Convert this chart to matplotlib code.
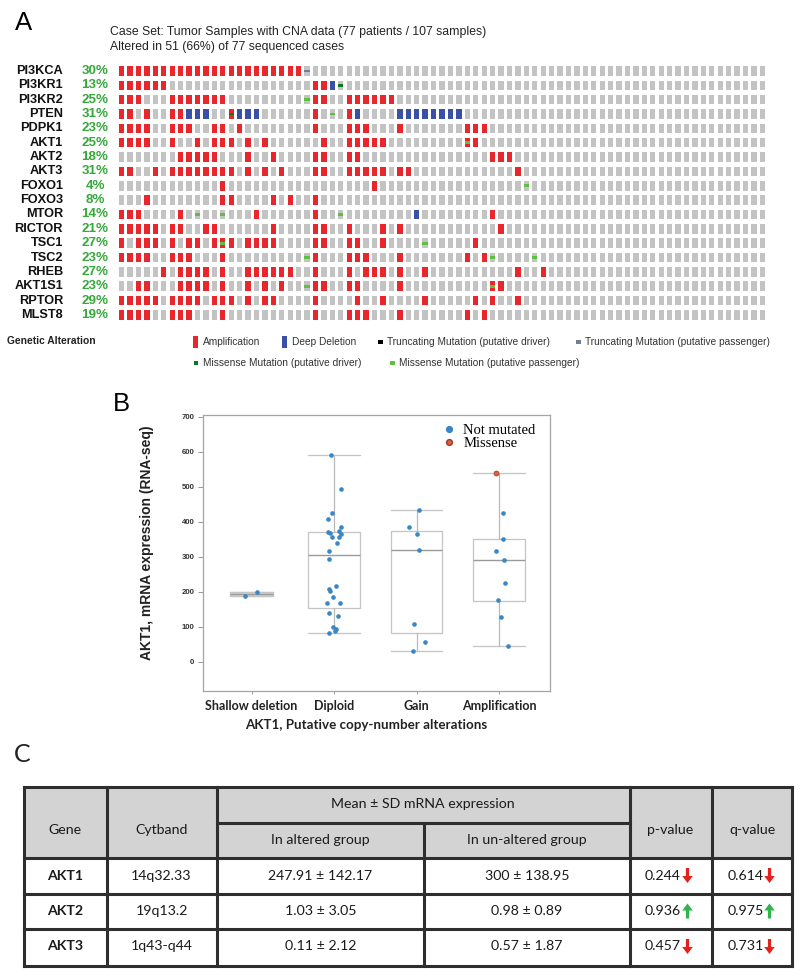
import matplotlib
matplotlib.use('Agg')
import matplotlib.pyplot as plt
from matplotlib.patches import Rectangle, FancyArrow
from matplotlib.lines import Line2D

# ---------------- Panel A data ----------------
genes = ['PI3KCA', 'PI3KR1', 'PI3KR2', 'PTEN', 'PDPK1', 'AKT1', 'AKT2', 'AKT3', 'FOXO1',
         'FOXO3', 'MTOR', 'RICTOR', 'TSC1', 'TSC2', 'RHEB', 'AKT1S1', 'RPTOR', 'MLST8']
pct_labels = ['30%', '13%', '25%', '31%', '23%', '25%', '18%', '31%', '4%',
              '8%', '14%', '21%', '27%', '23%', '27%', '23%', '29%', '19%']
n_cases = 77

amplification = {
    'PI3KCA': [0, 1, 2, 3, 4, 5, 6, 7, 8, 9, 10, 11, 12, 13, 14, 15, 16, 17, 18, 19, 20, 21],
    'PI3KR1': [0, 1, 2, 3, 4, 5, 23, 24],
    'PI3KR2': [0, 1, 2, 6, 7, 8, 9, 10, 11, 12, 23, 24, 27, 28, 29, 30, 31, 32],
    'PTEN': [0, 1, 3, 6, 7, 13, 23, 27],
    'PDPK1': [0, 1, 2, 3, 6, 7, 8, 11, 12, 14, 23, 27, 28, 29, 33, 41, 42, 43],
    'AKT1': [0, 1, 2, 3, 6, 9, 11, 12, 13, 15, 17, 24, 27, 28, 29, 30, 31, 41, 42],
    'AKT2': [7, 8, 9, 10, 11, 15, 18, 23, 24, 27, 28, 44, 45, 46],
    'AKT3': [0, 1, 4, 6, 7, 8, 9, 10, 11, 12, 13, 15, 17, 19, 23, 24, 27, 28, 29, 30, 31, 33, 34, 47],
    'FOXO1': [12, 30],
    'FOXO3': [3, 12, 13, 18, 20, 23],
    'MTOR': [0, 1, 2, 7, 16, 23, 44],
    'RICTOR': [0, 1, 2, 3, 4, 6, 7, 10, 11, 18, 23, 24, 27, 31, 33, 45],
    'TSC1': [0, 2, 3, 4, 6, 8, 9, 11, 12, 13, 15, 16, 17, 18, 23, 24, 27, 28, 31, 42],
    'TSC2': [0, 1, 2, 3, 6, 7, 8, 12, 23, 27, 28, 29, 33, 41, 43],
    'RHEB': [5, 7, 8, 9, 10, 12, 15, 16, 17, 18, 19, 20, 23, 27, 29, 30, 31, 33, 36, 47, 50],
    'AKT1S1': [2, 3, 7, 8, 9, 10, 12, 15, 17, 19, 23, 24, 27, 28, 33, 44, 45],
    'RPTOR': [0, 1, 2, 3, 4, 6, 7, 8, 9, 11, 12, 13, 15, 17, 18, 23, 28, 31, 36, 42, 44, 47],
    'MLST8': [0, 1, 2, 3, 6, 7, 8, 12, 23, 27, 28, 29, 33, 41, 43],
}
deep_deletion = {
    'PI3KR1': [25],
    'PTEN': [8, 9, 10, 14, 15, 16, 28, 33, 34, 35, 36, 37, 38, 39, 40],
    'MTOR': [35],
}
missense_driver = {'PI3KR1': [26], 'PTEN': [13]}
missense_passenger = {
    'PI3KR2': [22], 'PTEN': [25], 'AKT1': [41], 'FOXO1': [48], 'MTOR': [9, 12, 26],
    'TSC1': [12, 36], 'TSC2': [22, 44, 49], 'AKT1S1': [22, 44],
}
truncating_passenger = {'PI3KCA': [22]}

case_set_text = 'Case Set: Tumor Samples with CNA data (77 patients / 107 samples)'
altered_text = 'Altered in 51 (66%) of 77 sequenced cases'

# ---------------- Panel B data ----------------
cna_categories = ['Shallow deletion', 'Diploid', 'Gain', 'Amplification']
box_med = [193, 304, 320, 290.5]
box_q1 = [188, 154, 81, 174]
box_q3 = [198, 370, 372.5, 350]
box_lo = [188, 81, 30.6, 45]
box_hi = [198, 592, 432.5, 538]

shallow_x = [-0.079, 0.063]
shallow_y = [188.6, 198]
diploid_x = [0.964, 1.081, 0.972, 0.927, 1.081, 0.924, 0.955, 1.057, 0.972, 1.064, 1.085, 1.036,
             0.939, 0.936, 1.024, 0.936, 0.952, 0.988, 0.919, 1.069, 0.943, 1.048, 0.985, 1.023,
             1.010, 0.942]
diploid_y = [592, 492.6, 425.8, 408.7, 385.8, 371.5, 369, 373, 357, 356, 365, 339,
             315, 293, 216, 208, 201, 185, 167, 168, 139, 131, 98, 93.4, 88.6, 81]
gain_x = [2.03, 1.913, 2.01, 2.03, 1.97, 2.10, 1.958]
gain_y = [432.5, 384, 365, 320, 107, 55, 30.6]
amp_x = [3.048, 3.048, 2.964, 3.064, 3.07, 2.984, 3.024, 3.105]
amp_y = [426, 350, 316, 290, 224, 175.4, 128.6, 45]
missense_x = [2.96]
missense_y = [538]

# ---------------- Panel C data ----------------
table_genes = ['AKT1', 'AKT2', 'AKT3']
table_cytband = ['14q32.33', '19q13.2', '1q43-q44']
table_altered = ['247.91 \u00b1 142.17', '1.03 \u00b1 3.05', '0.11 \u00b1 2.12']
table_unaltered = ['300 \u00b1 138.95', '0.98 \u00b1 0.89', '0.57 \u00b1 1.87']
table_p = ['0.244', '0.936', '0.457']
table_q = ['0.614', '0.975', '0.731']
table_dir = ['down', 'up', 'down']

# ---------------- colours ----------------
C_GRAY = '#c3c3c3'
C_AMP = '#e8262b'
C_DEL = '#3a4fa8'
C_MIS_DRV = '#0a7a1a'
C_MIS_PAS = '#5cc040'
C_TRU_DRV = '#000000'
C_TRU_PAS = '#708090'
C_PCT = '#35a83a'
C_DOT = '#3a87c8'
C_MISSENSE = '#d9603b'

SANS = 'Liberation Sans'
CAL = 'Lato'

W, H = 800, 976
fig = plt.figure(figsize=(W / 100, H / 100), dpi=100)


def fa(l, t, r, b):
    return [l / W, 1 - b / H, (r - l) / W, (b - t) / H]


ov = fig.add_axes([0, 0, 1, 1])
ov.set_xlim(0, W)
ov.set_ylim(H, 0)
ov.axis('off')

# ---------------- Panel A ----------------
ov.text(15, 23, 'A', fontsize=18.5, family=SANS, ha='left', va='center')
ov.text(110, 32, case_set_text, fontsize=8.8, family=SANS, ha='left', va='center', color='#222222')
ov.text(110, 47, altered_text, fontsize=8.8, family=SANS, ha='left', va='center', color='#222222')

pitch_x = 8.43
pitch_y = 14.35
grid_left = 119 - 1.55
grid_top = 71 - pitch_y / 2
axo = fig.add_axes(fa(grid_left, grid_top, grid_left + n_cases * pitch_x,
                      grid_top + len(genes) * pitch_y))
axo.set_xlim(0, n_cases)
axo.set_ylim(len(genes), 0)
axo.axis('off')

cw = 5.3 / pitch_x
ch = 9.5 / pitch_y
mh = 2.8 / pitch_y
for r, g in enumerate(genes):
    cols = list(range(n_cases))
    colors = []
    amp = set(amplification.get(g, []))
    dele = set(deep_deletion.get(g, []))
    for c in cols:
        if c in amp:
            colors.append(C_AMP)
        elif c in dele:
            colors.append(C_DEL)
        else:
            colors.append(C_GRAY)
    axo.bar([c + 0.5 for c in cols], ch, bottom=r + 0.5 - ch / 2, width=cw,
            color=colors, linewidth=0)
    for dct, col in [(missense_driver, C_MIS_DRV), (missense_passenger, C_MIS_PAS),
                     (truncating_passenger, C_TRU_PAS)]:
        idx = dct.get(g, [])
        if idx:
            axo.bar([c + 0.5 for c in idx], mh, bottom=r + 0.5 - mh / 2, width=cw,
                    color=col, linewidth=0)
    axo.text((63 - grid_left) / pitch_x, r + 0.5, g, ha='right', va='center',
             fontsize=9.2, fontweight='bold', family=SANS, color='#111111')
    axo.text((95 - grid_left) / pitch_x, r + 0.5, pct_labels[r], ha='center', va='center',
             fontsize=9.6, fontweight='bold', family=SANS, color=C_PCT)

# legend of panel A
ov.text(7, 341, 'Genetic Alteration', fontsize=7.4, fontweight='bold', family=SANS,
        ha='left', va='center', color='#222222')
leg_fs = 7.3
ov.add_patch(Rectangle((193, 335.5), 5, 12.5, color=C_AMP, lw=0))
ov.text(203, 342, 'Amplification', fontsize=leg_fs, family=SANS, va='center', color='#333333')
ov.add_patch(Rectangle((282, 335.5), 5, 12.5, color=C_DEL, lw=0))
ov.text(292, 342, 'Deep Deletion', fontsize=leg_fs, family=SANS, va='center', color='#333333')
ov.add_patch(Rectangle((378, 339.5), 4.5, 4.5, color=C_TRU_DRV, lw=0))
ov.text(387, 342, 'Truncating Mutation (putative driver)', fontsize=leg_fs, family=SANS,
        va='center', color='#333333')
ov.add_patch(Rectangle((576, 339.5), 4.5, 4.5, color=C_TRU_PAS, lw=0))
ov.text(585, 342, 'Truncating Mutation (putative passenger)', fontsize=leg_fs, family=SANS,
        va='center', color='#333333')
ov.add_patch(Rectangle((193.5, 360.5), 4.5, 4.5, color=C_MIS_DRV, lw=0))
ov.text(203, 363, 'Missense Mutation (putative driver)', fontsize=leg_fs, family=SANS,
        va='center', color='#333333')
ov.add_patch(Rectangle((390, 360.5), 4.5, 4.5, color=C_MIS_PAS, lw=0))
ov.text(399, 363, 'Missense Mutation (putative passenger)', fontsize=leg_fs, family=SANS,
        va='center', color='#333333')

# ---------------- Panel B ----------------
ov.text(113, 404, 'B', fontsize=18.5, family=SANS, ha='left', va='center')
axb = fig.add_axes(fa(203, 415, 550, 691))
axb.set_xlim(-0.588, 3.618)
axb.set_ylim(-84, 705)
stats = []
for i in range(4):
    stats.append(dict(med=box_med[i], q1=box_q1[i], q3=box_q3[i],
                      whislo=box_lo[i], whishi=box_hi[i], fliers=[]))
widths = [0.52, 0.627, 0.627, 0.627]
bp = axb.bxp(stats, positions=[0, 1, 2, 3], widths=widths, capwidths=widths,
             showfliers=False, patch_artist=True,
             boxprops=dict(facecolor='white', edgecolor='#c4c4c4', linewidth=0.9),
             medianprops=dict(color='#9a9a9a', linewidth=1.0),
             whiskerprops=dict(color='#b8b8b8', linewidth=0.9),
             capprops=dict(color='#c4c4c4', linewidth=0.9))
bp['boxes'][0].set_facecolor('#d6d6d6')
for xs, ys in [(shallow_x, shallow_y), (diploid_x, diploid_y), (gain_x, gain_y), (amp_x, amp_y)]:
    axb.scatter(xs, ys, s=11, color=C_DOT, linewidths=0, zorder=3)
axb.scatter(missense_x, missense_y, s=13, color=C_MISSENSE, edgecolors='#a23a25',
            linewidths=0.5, zorder=3)
axb.set_yticks([0, 100, 200, 300, 400, 500, 600, 700])
axb.set_xticks([0, 1, 2, 3])
axb.set_xticklabels(cna_categories, fontsize=9, family=CAL, fontweight='bold', color='#222222')
for lab in axb.get_yticklabels():
    lab.set_fontsize(5.6)
    lab.set_fontweight('bold')
    lab.set_family(SANS)
    lab.set_color('#333333')
axb.tick_params(axis='y', length=3.6, width=0.6, color='#888888', pad=2.6)
axb.tick_params(axis='x', length=2.5, width=0.6, color='#888888', pad=4)
for sp in axb.spines.values():
    sp.set_color('#a5a5a5')
    sp.set_linewidth(0.9)
leg_handles = [Line2D([], [], marker='o', ls='', color=C_DOT, ms=4.2),
               Line2D([], [], marker='o', ls='', color=C_MISSENSE, mec='#a23a25', ms=4.2)]
axb.legend(leg_handles, ['Not mutated', 'Missense'], loc='upper left',
           bbox_to_anchor=(443 / W, 1 - 424 / H), bbox_transform=fig.transFigure,
           frameon=False, borderpad=0, borderaxespad=0, handlelength=0.8, handletextpad=0.6,
           labelspacing=-0.05, prop=dict(family='Liberation Serif', size=10.5))
ov.text(147, 543, 'AKT1, mRNA expression (RNA-seq)', rotation=90, fontsize=10,
        fontweight='bold', family=SANS, ha='center', va='center', color='#222222')
ov.text(366, 725, 'AKT1, Putative copy-number alterations', fontsize=9.6, fontweight='bold',
        family=CAL, ha='center', va='center', color='#222222')

# ---------------- Panel C ----------------
ov.text(14, 755, 'C', fontsize=18, family=CAL, ha='left', va='center', color='#222222')
tl, tr = 24, 792
y_top, y_mid, y_hdr, y_r1, y_r2, y_bot = 787.3, 822.7, 858.3, 894, 929.3, 966
x_c1, x_c2, x_c3, x_c4, x_c5 = 106.7, 217, 424, 630, 712
ov.add_patch(Rectangle((tl, y_top), tr - tl, y_hdr - y_top, facecolor='#d3d3d3', lw=0))
lc = '#2e2e2e'
lw = 2.2
for yy in [y_top, y_hdr, y_r1, y_r2, y_bot]:
    ov.plot([tl, tr], [yy, yy], color=lc, lw=lw, solid_capstyle='projecting')
ov.plot([x_c2, x_c4], [y_mid, y_mid], color=lc, lw=lw)
for xx in [tl, x_c1, x_c2, x_c4, x_c5, tr]:
    ov.plot([xx, xx], [y_top, y_bot], color=lc, lw=lw, solid_capstyle='projecting')
ov.plot([x_c3, x_c3], [y_mid, y_bot], color=lc, lw=lw)

tfs = 10.2
tkw = dict(family=CAL, fontsize=tfs, ha='center', va='center', color='#1a1a1a')
ov.text(65, 830, 'Gene', **tkw)
ov.text(161.5, 830, 'Cytband', **tkw)
ov.text(423, 804, 'Mean \u00b1 SD mRNA expression', **tkw)
ov.text(320.5, 840, 'In altered group', **tkw)
ov.text(527, 840, 'In un-altered group', **tkw)
ov.text(670, 830, 'p-value', **tkw)
ov.text(752, 830, 'q-value', **tkw)

row_y = [875.5, 911, 946.5]
for i in range(3):
    y = row_y[i]
    ov.text(65, y, table_genes[i], fontweight='bold', **tkw)
    ov.text(161.5, y, table_cytband[i], **tkw)
    ov.text(320.5, y, table_altered[i], **tkw)
    ov.text(527, y, table_unaltered[i], **tkw)
    rk = dict(tkw)
    rk['ha'] = 'right'
    ov.text(680.5, y, table_p[i], **rk)
    ov.text(763.5, y, table_q[i], **rk)
    for ax_c in [687.5, 769.5]:
        if table_dir[i] == 'down':
            ov.add_patch(FancyArrow(ax_c, y - 7.5, 0, 15, width=3.2, head_width=10.5,
                                    head_length=7, length_includes_head=True,
                                    color='#e3211c', lw=0))
        else:
            ov.add_patch(FancyArrow(ax_c, y + 7.5, 0, -15, width=3.2, head_width=10.5,
                                    head_length=7, length_includes_head=True,
                                    color='#2fb54a', lw=0))

fig.savefig('out.png', dpi=100)
